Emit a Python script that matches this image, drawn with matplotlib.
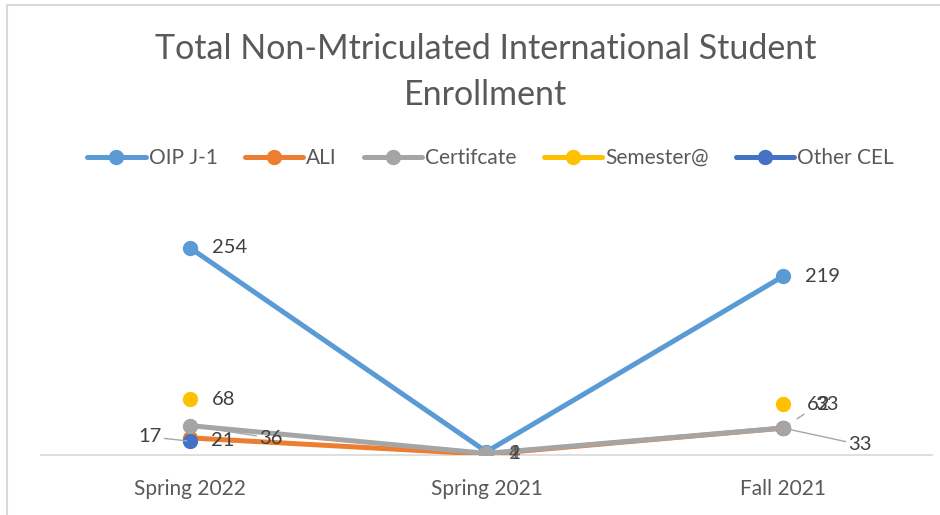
import matplotlib
matplotlib.use("Agg")
import matplotlib.pyplot as plt
import numpy as np

categories = ["Spring 2022", "Spring 2021", "Fall 2021"]
series_names = ["OIP J-1", "ALI", "Certifcate", "Semester@", "Other CEL"]
oip = [254, 4, 219]
ali = [21, 1, 33]
cert = [36, 2, 33]
semester = [68, None, 62]
other_cel = [17, None, 33]
colors = ["#5B9BD5", "#ED7D31", "#A5A5A5", "#FFC000", "#4472C4"]

plt.rcParams['font.family'] = ['Lato', 'DejaVu Sans']
fig = plt.figure(figsize=(9.4, 5.15), dpi=100)
ax = fig.add_axes([0.044, 0.1165, 0.947, 0.4755])

x = np.arange(len(categories))
data = [oip, ali, cert, semester, other_cel]
zorders = [3, 4, 6, 5, 5.5]
handles = []
for name, vals, c, z in zip(series_names, data, colors, zorders):
    v = np.array([np.nan if t is None else t for t in vals], dtype=float)
    h, = ax.plot(x, v, color=c, lw=3.6, marker='o', ms=10, zorder=z,
                 solid_capstyle='round', label=name)
    handles.append(h)

ax.set_xlim(-0.5, 2.5)
ax.set_ylim(0, 300)
ax.set_yticks([])
for s in ["left", "right", "top"]:
    ax.spines[s].set_visible(False)
ax.spines["bottom"].set_color("#D9D9D9")
ax.spines["bottom"].set_linewidth(1.2)
ax.set_xticks(x)
ax.set_xticklabels(categories, fontsize=15, color="#595959")
ax.tick_params(axis='x', length=0, pad=17)

lab_kw = dict(fontsize=14.5, color="#404040", textcoords="offset points", va="center", zorder=10)
lead = dict(arrowstyle="-", color="#A6A6A6", lw=1)

# Spring 2022
ax.annotate("254", (0, 254), xytext=(16, 0), **lab_kw)
ax.annotate("68", (0, 68), xytext=(16, 0), **lab_kw)
ax.annotate("21", (0, 21), xytext=(15, -2), **lab_kw)
ax.annotate("36", (0, 36), xytext=(50, -9), arrowprops=dict(lead, shrinkA=0, shrinkB=6), **lab_kw)
ax.annotate("17", (0, 17), xytext=(-37, 3), arrowprops=dict(lead, shrinkA=0, shrinkB=2), **lab_kw)
# Spring 2021
for v in [oip[1], ali[1], cert[1]]:
    ax.annotate(str(v), (1, 0), xytext=(16, 1), fontsize=14.5, color="#404040",
                textcoords="offset points", va="center", zorder=10, alpha=0.75)
# Fall 2021
ax.annotate("219", (2, 219), xytext=(16, 0), **lab_kw)
ax.annotate("62", (2, 33), xytext=(17, 17), arrowprops=dict(lead, shrinkA=0, shrinkB=12), **lab_kw)
ax.annotate("33", (2, 33), xytext=(23, 17), **lab_kw)
ax.annotate("33", (2, 33), xytext=(47, -12), arrowprops=dict(lead, shrinkA=0, shrinkB=6), **lab_kw)

fig.text(0.517, 0.905, "Total Non-Mtriculated International Student", ha="center", va="center",
         fontsize=24.5, color="#595959")
fig.text(0.517, 0.815, "Enrollment", ha="center", va="center", fontsize=24.5, color="#595959")

leg = fig.legend(handles=handles, loc="center", bbox_to_anchor=(0.522, 0.693), ncol=5,
                 frameon=False, fontsize=15, handlelength=2.8, columnspacing=1.3, handletextpad=0.15,
                 labelcolor="#595959")

# chart border
fig.add_artist(plt.Line2D([0.0075, 0.0075, 1.0], [0.0, 0.99, 0.99], color="#D9D9D9", lw=1.5,
                          transform=fig.transFigure))

fig.savefig("out.png", dpi=100)
